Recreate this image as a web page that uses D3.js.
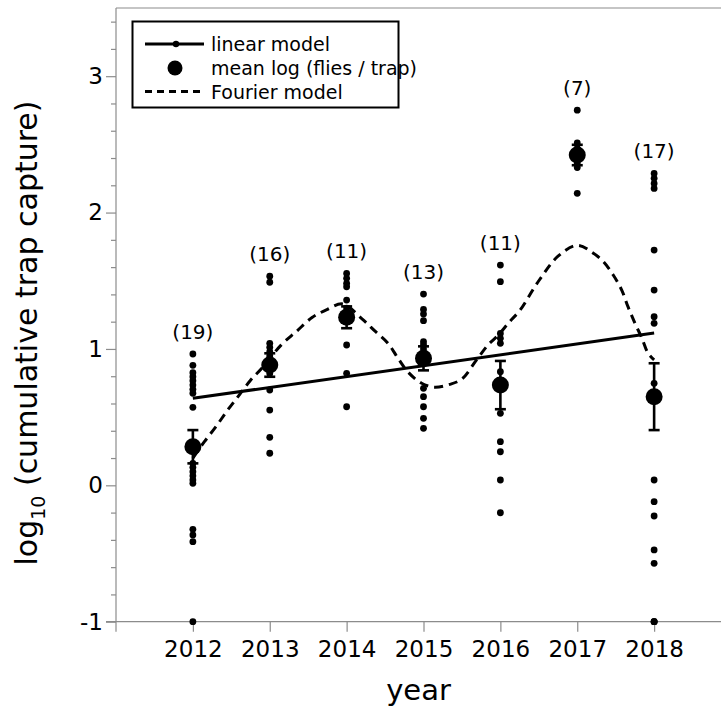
<!DOCTYPE html>
<html>
<head>
<meta charset="utf-8">
<script src="https://cdn.jsdelivr.net/npm/d3@7"></script>
<style>
  body { margin: 0; background: #fff; }
  svg { display: block; font-family: "DejaVu Sans", sans-serif; }
</style>
</head>
<body>
<div id="chart"></div>
<script>
const years = [2012, 2013, 2014, 2015, 2016, 2017, 2018];
const trapCounts = [19, 16, 11, 13, 11, 7, 17];

// log10 capture of each trap (some hidden under the means)
const traps2012 = [0.963, 0.88, 0.826, 0.796, 0.767, 0.735, 0.704, 0.675, 0.572, 0.161, 0.132, 0.10, 0.07, 0.039, 0.015, -0.323, -0.364, -0.413, -1.0];
const traps2013 = [1.533, 1.489, 1.041, 1.012, 0.98, 0.95, 0.93, 0.91, 0.89, 0.87, 0.85, 0.82, 0.699, 0.552, 0.352, 0.235];
const traps2014 = [1.554, 1.518, 1.481, 1.456, 1.358, 1.30, 1.26, 1.20, 1.029, 0.821, 0.576];
const traps2015 = [1.402, 1.290, 1.256, 1.207, 1.053, 1.03, 1.00, 0.95, 0.711, 0.650, 0.576, 0.491, 0.418];
const traps2016 = [1.615, 1.493, 1.114, 1.078, 1.041, 0.833, 0.528, 0.320, 0.246, 0.039, -0.201];
const traps2017 = [2.751, 2.51, 2.47, 2.40, 2.36, 2.33, 2.141];
const traps2018 = [2.287, 2.251, 2.214, 2.177, 1.725, 1.432, 1.236, 1.188, 0.748, 0.039, -0.120, -0.225, -0.474, -0.572, -1.0, -1.0, -1.0];
const trapsByYear = [traps2012, traps2013, traps2014, traps2015, traps2016, traps2017, traps2018];

const meanLog = [0.283, 0.882, 1.232, 0.931, 0.735, 2.422, 0.650];
const seLog = [0.122, 0.086, 0.080, 0.088, 0.177, 0.075, 0.245];

const linearYears = [2012, 2018];
const linearFit = [0.638, 1.117];

const fourierYears = [2012.0, 2012.15, 2012.3, 2012.45, 2012.6, 2012.75, 2012.9, 2013.15, 2013.35, 2013.55, 2013.75, 2013.95,
  2014.2, 2014.37, 2014.54, 2014.67, 2014.8, 2014.97, 2015.14, 2015.34, 2015.5, 2015.69, 2015.84, 2015.97,
  2016.12, 2016.25, 2016.5, 2016.75, 2017.0, 2017.19, 2017.34, 2017.47, 2017.58, 2017.66, 2017.75, 2017.84, 2017.92, 2018.0];
const fourierFit = [0.20, 0.32, 0.43, 0.55, 0.66, 0.77, 0.86, 1.03, 1.13, 1.23, 1.29, 1.33,
  1.22, 1.13, 1.04, 0.93, 0.83, 0.75, 0.72, 0.74, 0.78, 0.92, 1.03, 1.10,
  1.20, 1.28, 1.50, 1.68, 1.76, 1.71, 1.64, 1.54, 1.43, 1.31, 1.19, 1.08, 0.97, 0.92];

const yTicks = [-1, 0, 1, 2, 3];
const yTickLabels = ["-1", "0", "1", "2", "3"];
const yMinorTicks = [-0.8, -0.6, -0.4, -0.2, 0.2, 0.4, 0.6, 0.8, 1.2, 1.4, 1.6, 1.8, 2.2, 2.4, 2.6, 2.8, 3.2, 3.4];

const W = 721, H = 717;
const axisGrey = "#8c8c8c";

const x = d3.scaleLinear().domain([2011, 2019]).range([116, 731]);
const y = d3.scaleLinear().domain([-1, 3.5]).range([621.7, 8]);

const svg = d3.select("#chart").append("svg")
    .attr("width", W)
    .attr("height", H);

// frame lines: left axis, bottom axis, top
svg.append("line").attr("x1", x(2011)).attr("x2", x(2011)).attr("y1", y(3.5)).attr("y2", y(-1) + 10)
    .attr("stroke", axisGrey).attr("stroke-width", 1.2);
svg.append("line").attr("x1", x(2011) - 10).attr("x2", W).attr("y1", y(-1)).attr("y2", y(-1))
    .attr("stroke", axisGrey).attr("stroke-width", 1.2);
svg.append("line").attr("x1", x(2011)).attr("x2", W).attr("y1", y(3.5)).attr("y2", y(3.5))
    .attr("stroke", axisGrey).attr("stroke-width", 1.2);

// y axis, major + minor ticks
const yAxis = svg.append("g")
    .attr("transform", `translate(${x(2011)},0)`)
    .call(d3.axisLeft(y).tickValues(yTicks).tickSize(10).tickSizeOuter(0).tickPadding(3)
        .tickFormat((d, i) => yTickLabels[i]));
yAxis.select(".domain").remove();
yAxis.selectAll("line").attr("stroke", axisGrey).attr("stroke-width", 1.2);
yAxis.selectAll("text").attr("font-size", 23).attr("fill", "#000")
    .attr("font-family", "DejaVu Sans, sans-serif");

const yMinor = svg.append("g")
    .attr("transform", `translate(${x(2011)},0)`)
    .call(d3.axisLeft(y).tickValues(yMinorTicks).tickSize(5).tickFormat(""));
yMinor.select(".domain").remove();
yMinor.selectAll("line").attr("stroke", axisGrey).attr("stroke-width", 1.2);

// x axis
const xAxis = svg.append("g")
    .attr("transform", `translate(0,${y(-1)})`)
    .call(d3.axisBottom(x).tickValues(years).tickFormat(d3.format("d")).tickSize(10).tickPadding(9));
xAxis.select(".domain").remove();
xAxis.selectAll("line").attr("stroke", axisGrey).attr("stroke-width", 1.2);
xAxis.selectAll("text").attr("font-size", 23).attr("fill", "#000")
    .attr("font-family", "DejaVu Sans, sans-serif");

// axis titles
svg.append("text")
    .attr("x", 418.5).attr("y", 700)
    .attr("text-anchor", "middle")
    .attr("font-size", 29)
    .text("year");

const yTitle = svg.append("text")
    .attr("transform", "translate(37,333) rotate(-90)")
    .attr("text-anchor", "middle")
    .attr("font-size", 30);
yTitle.append("tspan").text("log");
yTitle.append("tspan").attr("font-size", 19).attr("dy", 8).text("10");
yTitle.append("tspan").attr("dy", -8).text(" (cumulative trap capture)");

// models
svg.append("path")
    .datum(linearYears.map((d, i) => [d, linearFit[i]]))
    .attr("d", d3.line().x(d => x(d[0])).y(d => y(d[1])))
    .attr("fill", "none").attr("stroke", "#000").attr("stroke-width", 3);

svg.append("path")
    .datum(fourierYears.map((d, i) => [d, fourierFit[i]]))
    .attr("d", d3.line().x(d => x(d[0])).y(d => y(d[1])).curve(d3.curveCatmullRom))
    .attr("fill", "none").attr("stroke", "#000").attr("stroke-width", 3)
    .attr("stroke-dasharray", "9,6");

// trap points
const dots = years.flatMap((yr, i) => trapsByYear[i].map(v => ({year: yr, v: v})));
svg.append("g").selectAll("circle")
    .data(dots).enter()
    .append("circle")
    .attr("cx", d => x(d.year))
    .attr("cy", d => y(d.v))
    .attr("r", 3.4)
    .attr("fill", "#000");

// error bars + means
const means = years.map((yr, i) => ({year: yr, m: meanLog[i], se: seLog[i]}));
const eb = svg.append("g").selectAll("g").data(means).enter().append("g")
    .attr("stroke", "#000").attr("stroke-width", 2.6);
eb.append("line")
    .attr("x1", d => x(d.year)).attr("x2", d => x(d.year))
    .attr("y1", d => y(d.m + d.se)).attr("y2", d => y(d.m - d.se));
eb.append("line")
    .attr("x1", d => x(d.year) - 5.5).attr("x2", d => x(d.year) + 5.5)
    .attr("y1", d => y(d.m + d.se)).attr("y2", d => y(d.m + d.se));
eb.append("line")
    .attr("x1", d => x(d.year) - 5.5).attr("x2", d => x(d.year) + 5.5)
    .attr("y1", d => y(d.m - d.se)).attr("y2", d => y(d.m - d.se));

svg.append("g").selectAll("circle")
    .data(means).enter()
    .append("circle")
    .attr("cx", d => x(d.year))
    .attr("cy", d => y(d.m))
    .attr("r", 8.5)
    .attr("fill", "#000");

// sample sizes over each column
svg.append("g").selectAll("text")
    .data(years).enter()
    .append("text")
    .attr("x", d => x(d))
    .attr("y", (d, i) => y(d3.max(trapsByYear[i])) - 15)
    .attr("text-anchor", "middle")
    .attr("font-size", 20)
    .text((d, i) => `(${trapCounts[i]})`);

// legend
const lg = svg.append("g");
lg.append("rect")
    .attr("x", 132.5).attr("y", 21.5).attr("width", 266).attr("height", 86)
    .attr("fill", "#fff").attr("stroke", "#000").attr("stroke-width", 2);
lg.append("line").attr("x1", 145).attr("x2", 204).attr("y1", 44).attr("y2", 44)
    .attr("stroke", "#000").attr("stroke-width", 3);
lg.append("circle").attr("cx", 176).attr("cy", 44).attr("r", 3.2).attr("fill", "#000");
lg.append("circle").attr("cx", 175).attr("cy", 68).attr("r", 7.5).attr("fill", "#000");
lg.append("line").attr("x1", 145).attr("x2", 204).attr("y1", 91.5).attr("y2", 91.5)
    .attr("stroke", "#000").attr("stroke-width", 3).attr("stroke-dasharray", "7,5");
const legendLabels = ["linear model", "mean log (flies / trap)", "Fourier model"];
lg.selectAll("text.lbl").data(legendLabels).enter()
    .append("text")
    .attr("class", "lbl")
    .attr("x", 211)
    .attr("y", (d, i) => 51 + i * 23.8)
    .attr("font-size", 19)
    .text(d => d);
</script>
</body>
</html>
